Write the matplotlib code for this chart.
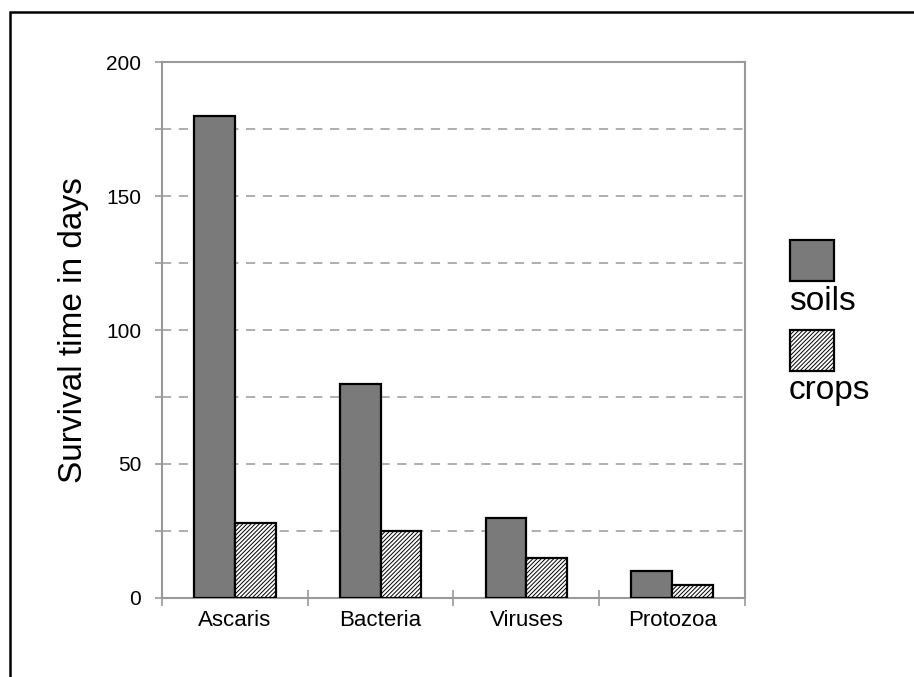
import numpy as np
import matplotlib
matplotlib.use('Agg')
import matplotlib.pyplot as plt
from matplotlib.patches import Rectangle

plt.rcParams['font.family'] = ['Liberation Sans', 'DejaVu Sans']
plt.rcParams['hatch.linewidth'] = 0.7

categories = ['Ascaris', 'Bacteria', 'Viruses', 'Protozoa']
soils = [180, 80, 30, 10]
crops = [28, 25, 15, 5]
series_names = ['soils', 'crops']

grey = '#999999'
soil_color = '#7a7a7a'
hatch = '////////'

fig = plt.figure(figsize=(9.14, 6.77), dpi=100)
ax = fig.add_axes([0.1772, 0.1167, 0.6379, 0.7917])

x = np.arange(len(categories))
w = 0.28
ax.bar(x - w / 2, soils, w, color=soil_color, edgecolor='black', linewidth=1.6, zorder=3)
ax.bar(x + w / 2, crops, w, color='white', edgecolor='black', linewidth=1.6,
       hatch=hatch, zorder=3)

ax.set_xlim(-0.5, len(categories) - 0.5)
ax.set_ylim(0, 200)

# y ticks: every 25, labels every 50
ax.set_yticks(np.arange(0, 201, 25))
ax.set_yticklabels([str(v) if v % 50 == 0 else '' for v in range(0, 201, 25)])
ax.tick_params(axis='y', direction='out', length=5, width=1.2, color=grey,
               labelsize=15, pad=10)
for v in range(25, 200, 25):
    ax.axhline(v, color=grey, linestyle=(0, (6, 5)), linewidth=1.1, zorder=1)

# x ticks at category borders, labels at centres
ax.set_xticks(np.arange(-0.5, len(categories), 1.0))
ax.set_xticklabels([])
ax.set_xticks(x, minor=True)
ax.set_xticklabels(categories, minor=True)
ax.tick_params(axis='x', which='major', direction='inout', length=12, width=1.2, color=grey)
ax.tick_params(axis='x', which='minor', length=0, labelsize=16, pad=9)

for s in ax.spines.values():
    s.set_color(grey)
    s.set_linewidth(1.5)

ax.set_ylabel('Survival time in days', fontsize=24, labelpad=12)

# legend drawn by hand: box above label
px, py = 790 / 914, 1 - 281 / 677
pw, ph = 44 / 914, 41 / 677
fig.patches.append(Rectangle((px, py), pw, ph, transform=fig.transFigure,
                             facecolor=soil_color, edgecolor='black', linewidth=1.6))
fig.text(px - 0.001, 1 - 302 / 677, series_names[0], fontsize=24, va='center', ha='left')
py2 = 1 - 371 / 677
fig.patches.append(Rectangle((px, py2), pw, ph, transform=fig.transFigure,
                             facecolor='white', edgecolor='black', linewidth=1.6,
                             hatch=hatch))
fig.text(px - 0.001, 1 - 390 / 677, series_names[1], fontsize=24, va='center', ha='left')

# outer frame
fig.patches.append(Rectangle((10 / 914, -0.1), 1.2, 1.1 - 12 / 677,
                             transform=fig.transFigure, fill=False,
                             edgecolor='black', linewidth=1.8))

fig.savefig('out.png', dpi=100)
